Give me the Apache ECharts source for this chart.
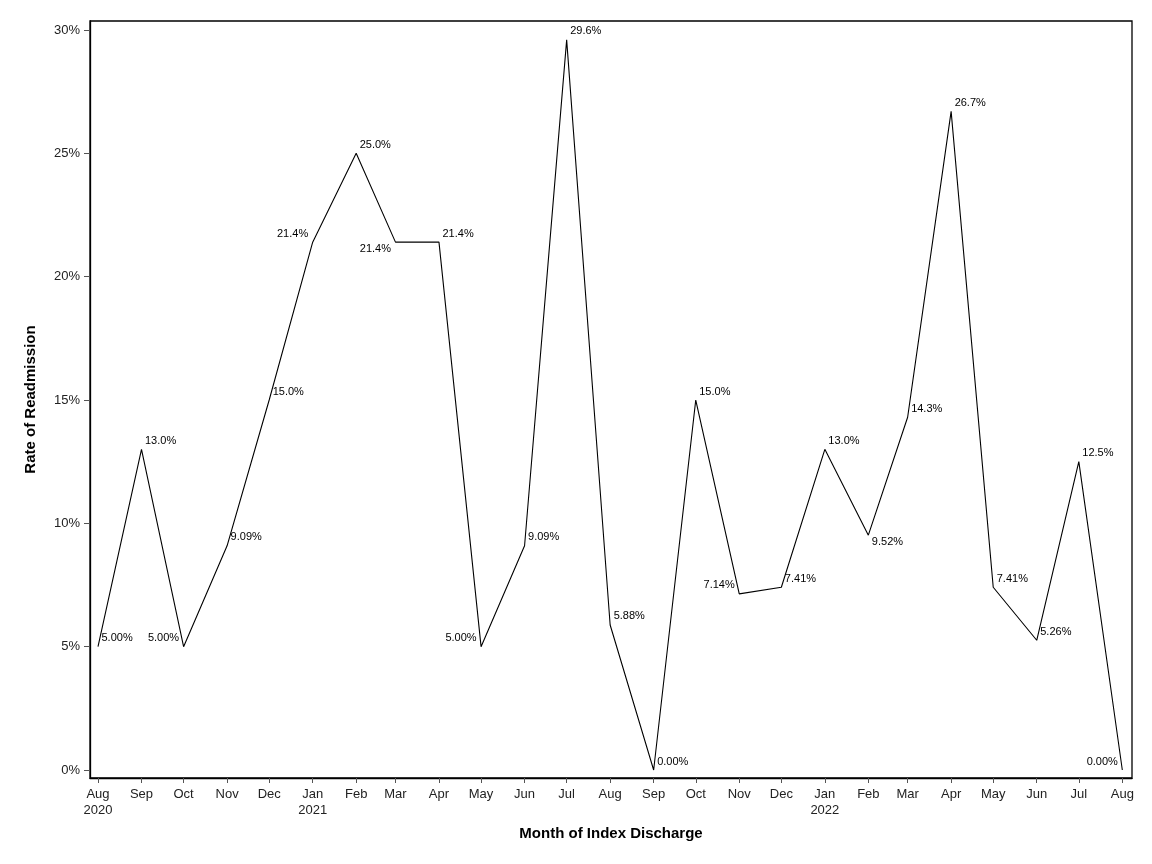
<!DOCTYPE html>
<html>
<head>
<meta charset="utf-8">
<script src="https://cdn.jsdelivr.net/npm/echarts@6/dist/echarts.min.js"></script>
<style>html,body{margin:0;padding:0;background:#fff}#c{width:1152px;height:864px}</style>
</head>
<body>
<div id="c"></div>
<script>
// Months (year, month index 0-11)
const months = [
  [2020,7],[2020,8],[2020,9],[2020,10],[2020,11],
  [2021,0],[2021,1],[2021,2],[2021,3],[2021,4],[2021,5],[2021,6],[2021,7],[2021,8],[2021,9],[2021,10],[2021,11],
  [2022,0],[2022,1],[2022,2],[2022,3],[2022,4],[2022,5],[2022,6],[2022,7]
];
// Readmission rate (%)
const rates = [5.00,13.0,5.00,9.09,15.0,21.4,25.0,21.4,21.4,5.00,9.09,29.6,5.88,0.00,15.0,7.14,7.41,13.0,9.52,14.3,26.7,7.41,5.26,12.5,0.00];
// Data label texts
const rateLabels = ['5.00%','13.0%','5.00%','9.09%','15.0%','21.4%','25.0%','21.4%','21.4%','5.00%','9.09%','29.6%','5.88%','0.00%','15.0%','7.14%','7.41%','13.0%','9.52%','14.3%','26.7%','7.41%','5.26%','12.5%','0.00%'];
// Label placement side (style only)
const labelSide = ['ne','ne','nw','ne','ne','nw','ne','sw','ne','nw','ne','ne','ne','ne','ne','nw','ne','ne','se','ne','ne','ne','ne','ne','nw'];
const monthNames = ['Jan','Feb','Mar','Apr','May','Jun','Jul','Aug','Sep','Oct','Nov','Dec'];
const yTicks = [0,5,10,15,20,25,30];

const DAY = 86400000;
const times = months.map(m => Date.UTC(m[0], m[1], 1));

const sideStyle = {
  ne: {position:[4,-8], align:'left', verticalAlign:'middle'},
  nw: {position:[-4,-8], align:'right', verticalAlign:'middle'},
  se: {position:[4,7], align:'left', verticalAlign:'middle'},
  sw: {position:[-4,7], align:'right', verticalAlign:'middle'}
};

const data = times.map((t,i) => ({
  value: [t, rates[i]],
  label: Object.assign({show:true, formatter: rateLabels[i]}, sideStyle[labelSide[i]])
}));

const chart = echarts.init(document.getElementById('c'));
chart.setOption({
  animation: false,
  backgroundColor: '#fff',
  textStyle: {fontFamily: 'Liberation Sans, Arial, sans-serif'},
  grid: {left: 90, right: 20, top: 21, bottom: 86, show: true, borderColor: '#000', borderWidth: 1.3, containLabel: false},
  xAxis: {
    type: 'value',
    scale: true,
    position: 'bottom',
    min: times[0] - 5.7*DAY,
    max: times[times.length-1] + 6.9*DAY,
    name: 'Month of Index Discharge',
    nameLocation: 'middle',
    nameGap: 48,
    nameTextStyle: {fontSize: 15, fontWeight: 'bold', color: '#000', fontFamily: 'Liberation Sans, Arial, sans-serif'},
    axisLine: {show: true, onZero: false, lineStyle: {color: '#000', width: 1.3}},
    axisTick: {show: true, inside: false, length: 5, lineStyle: {color: '#555'}, customValues: times},
    minorTick: {show: false},
    splitLine: {show: false},
    axisLabel: {
      customValues: times,
      fontSize: 13, color: '#222', margin: 8, lineHeight: 16,
      fontFamily: 'Liberation Sans, Arial, sans-serif',
      formatter: function (v) {
        const d = new Date(v);
        const m = d.getUTCMonth();
        let s = monthNames[m];
        if (m === 0 || v === times[0]) s += '\n' + d.getUTCFullYear();
        return s;
      }
    }
  },
  yAxis: {
    type: 'value',
    min: -0.324,
    max: 30.365,
    name: 'Rate of Readmission',
    nameLocation: 'middle',
    nameGap: 52,
    nameTextStyle: {fontSize: 15, fontWeight: 'bold', color: '#000', fontFamily: 'Liberation Sans, Arial, sans-serif'},
    axisLine: {show: true, onZero: false, lineStyle: {color: '#000', width: 1.3}},
    axisTick: {show: true, inside: false, length: 6, lineStyle: {color: '#555'}, customValues: yTicks},
    splitLine: {show: false},
    axisLabel: {
      customValues: yTicks,
      fontSize: 13, color: '#222', margin: 10,
      fontFamily: 'Liberation Sans, Arial, sans-serif',
      formatter: v => Math.round(v) + '%'
    }
  },
  series: [{
    type: 'line',
    data: data,
    symbol: 'circle',
    symbolSize: 1,
    itemStyle: {color: 'rgba(0,0,0,0)'},
    lineStyle: {color: '#000', width: 1.1},
    label: {show: true, fontSize: 11, color: '#000', fontFamily: 'Liberation Sans, Arial, sans-serif'},
    labelLayout: {hideOverlap: false},
    emphasis: {disabled: true}
  }]
});
</script>
</body>
</html>
